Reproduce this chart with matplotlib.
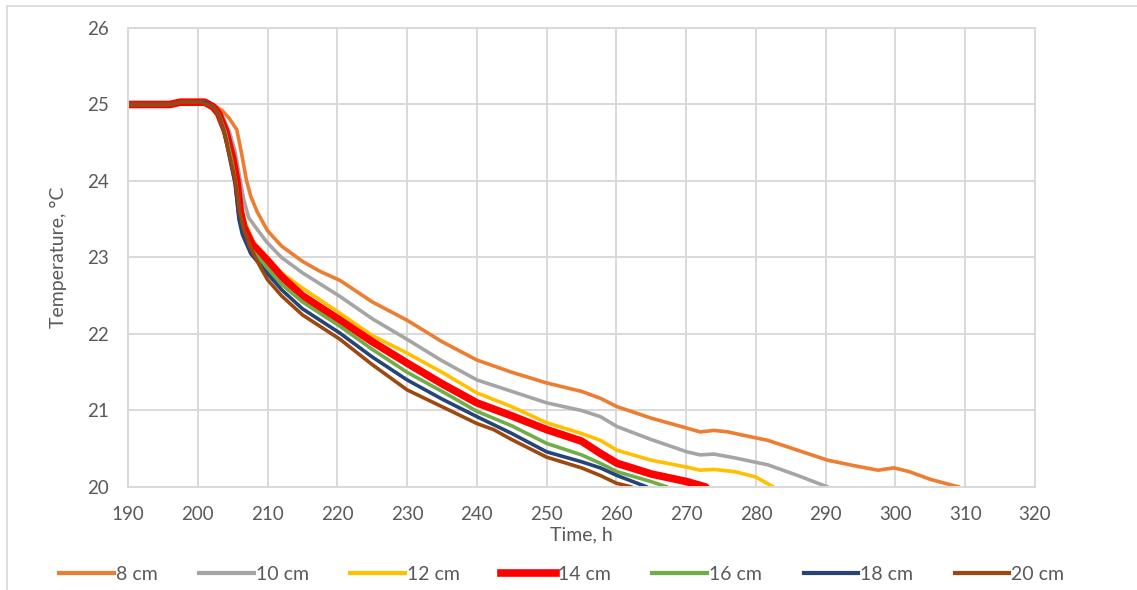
import matplotlib.pyplot as plt
from matplotlib.lines import Line2D

# time (h) and temperature (degC), one pair per depth
t_8 = [190, 196, 197.5, 201, 202.5, 203.5, 204.5, 205.6, 206.3, 207, 207.6, 208.5, 210, 212, 215, 217.5,
       220.4, 225, 230, 235, 240, 245, 250, 255, 257.7, 260.1, 265, 270.1, 272, 274, 276, 278, 281.7,
       286, 290.3, 294, 297.5, 299.8, 302, 305, 309.1]
T_8 = [25.0, 25.0, 25.03, 25.03, 24.98, 24.92, 24.82, 24.67, 24.35, 24.0, 23.8, 23.6, 23.35, 23.15, 22.95,
       22.82, 22.7, 22.42, 22.18, 21.9, 21.66, 21.5, 21.36, 21.25, 21.16, 21.05, 20.9, 20.77, 20.72, 20.74,
       20.72, 20.68, 20.61, 20.48, 20.35, 20.28, 20.22, 20.25, 20.2, 20.1, 20.0]

t_10 = [190, 196, 197.5, 201, 202.5, 203.5, 204.5, 205.3, 206, 206.6, 207.3, 208.5, 209.9, 212, 215,
        220.4, 225, 230, 235, 240, 245, 250, 255, 257.7, 260.1, 265, 270.1, 272, 274, 277, 281.7, 286, 290.3]
T_10 = [25.0, 25.0, 25.03, 25.03, 24.97, 24.85, 24.65, 24.4, 24.05, 23.75, 23.52, 23.37, 23.2, 23.0, 22.8,
        22.49, 22.2, 21.93, 21.65, 21.4, 21.25, 21.1, 21.0, 20.92, 20.79, 20.62, 20.46, 20.42, 20.43, 20.38,
        20.29, 20.15, 20.0]

t_12 = [190, 196, 197.5, 201, 202.3, 203, 204, 205, 205.7, 206.2, 206.8, 208, 209.9, 212, 215, 220.4,
        225, 230, 235, 240, 245, 250, 255, 257.7, 260.1, 265, 270.1, 272, 274, 277, 280, 282.5]
T_12 = [25.0, 25.0, 25.03, 25.03, 24.97, 24.9, 24.7, 24.4, 24.1, 23.7, 23.45, 23.2, 23.01, 22.8, 22.6,
        22.27, 21.98, 21.75, 21.5, 21.23, 21.05, 20.84, 20.7, 20.61, 20.48, 20.35, 20.26, 20.22, 20.23,
        20.2, 20.13, 20.0]

t_14 = [190, 196, 197.5, 201, 202.2, 203, 204, 205, 205.6, 206.1, 206.6, 207.8, 209.9, 212, 215, 220.4,
        225, 230, 235, 240, 245, 250, 255, 257.7, 260.1, 265, 270.1, 272.8]
T_14 = [25.0, 25.0, 25.03, 25.03, 24.97, 24.88, 24.65, 24.3, 24.0, 23.6, 23.4, 23.17, 22.97, 22.75, 22.5,
        22.18, 21.9, 21.62, 21.35, 21.1, 20.93, 20.75, 20.6, 20.44, 20.31, 20.17, 20.07, 20.0]

t_16 = [190, 196, 197.5, 201, 202.2, 203, 204, 204.9, 205.5, 206, 206.5, 207.7, 209.9, 212, 215, 220.4,
        225, 230, 235, 240, 245, 250, 255, 257.7, 260.1, 265, 267.3]
T_16 = [25.0, 25.0, 25.03, 25.03, 24.97, 24.87, 24.62, 24.25, 23.95, 23.55, 23.35, 23.1, 22.87, 22.65,
        22.42, 22.1, 21.8, 21.5, 21.25, 20.99, 20.8, 20.57, 20.42, 20.31, 20.2, 20.07, 20.0]

t_18 = [190, 196, 197.5, 201, 202.2, 203, 203.9, 204.8, 205.4, 205.9, 206.4, 207.6, 209.9, 212, 215,
        220.4, 225, 230, 235, 240, 245, 250, 255, 257.7, 260.1, 264.4]
T_18 = [25.0, 25.0, 25.03, 25.03, 24.97, 24.86, 24.6, 24.2, 23.95, 23.5, 23.3, 23.05, 22.8, 22.58, 22.33,
        22.01, 21.7, 21.4, 21.15, 20.92, 20.7, 20.46, 20.33, 20.25, 20.15, 20.0]

t_20 = [190, 196, 197.5, 200.5, 202.2, 203, 203.7, 204.5, 205.4, 206, 206.5, 207.5, 209, 210, 212, 215,
        220.4, 225, 230, 235, 240, 242.4, 245, 250, 255, 257.7, 260, 262.2]
T_20 = [25.0, 25.0, 25.03, 25.03, 24.97, 24.85, 24.67, 24.35, 24.0, 23.6, 23.4, 23.14, 22.87, 22.71, 22.5,
        22.25, 21.93, 21.6, 21.27, 21.05, 20.83, 20.75, 20.62, 20.39, 20.25, 20.15, 20.05, 20.0]

labels = ['8 cm', '10 cm', '12 cm', '14 cm', '16 cm', '18 cm', '20 cm']
colors = ['#ED7D31', '#A5A5A5', '#FFC000', '#FF0000', '#70AD47', '#264478', '#9E480E']
series = [(t_8, T_8), (t_10, T_10), (t_12, T_12), (t_14, T_14), (t_16, T_16), (t_18, T_18), (t_20, T_20)]

plt.rcParams['font.family'] = ['Lato', 'DejaVu Sans']
txt = '#595959'
grid = '#d9d9d9'

fig = plt.figure(figsize=(11.37, 5.90), dpi=100)
ax = fig.add_axes([128 / 1137, 1 - 487 / 590, (1035 - 128) / 1137, (487 - 28) / 590])

for (t, T), lab, c in zip(series, labels, colors):
    lw = 5.5 if lab == '14 cm' else 2.6
    ax.plot(t, T, color=c, lw=lw, label=lab, solid_capstyle='round', solid_joinstyle='round')

ax.set_xlim(190, 320)
ax.set_ylim(20, 26)
ax.set_xticks(range(190, 321, 10))
ax.set_yticks(range(20, 27))
ax.grid(True, color=grid, lw=1.4)
ax.set_axisbelow(True)
for s in ax.spines.values():
    s.set_color(grid)
    s.set_linewidth(1.4)
ax.tick_params(length=0, labelsize=13.5, colors=txt, pad=14)
ax.set_xlabel('Time, h', fontsize=14, color=txt, labelpad=2)
ax.set_ylabel('Temperature, °C', fontsize=14, color=txt, labelpad=14)

handles = [Line2D([], [], color=c, lw=(5.5 if l == '14 cm' else 3.0)) for l, c in zip(labels, colors)]
leg = fig.legend(handles, labels, loc='center', bbox_to_anchor=(0.494, 0.027), ncol=7, frameon=False,
                 fontsize=14, handlelength=2.8, handletextpad=0.1, columnspacing=2.15)
for tx in leg.get_texts():
    tx.set_color(txt)

# light outer chart border (left and top visible)
fig.add_artist(Line2D([7 / 1137, 7 / 1137], [0, 1 - 6 / 590], color=grid, lw=1.2))
fig.add_artist(Line2D([7 / 1137, 1], [1 - 6 / 590, 1 - 6 / 590], color=grid, lw=1.2))

fig.savefig('out.png', dpi=100)
